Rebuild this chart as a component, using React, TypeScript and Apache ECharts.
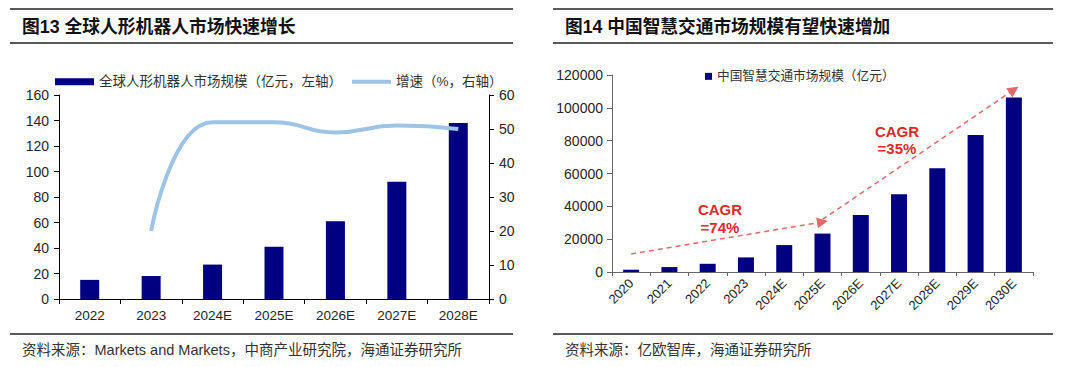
import React, { useEffect, useRef } from 'react';
import * as echarts from 'echarts';

// ---------- Data ----------
const leftCategories = ['2022', '2023', '2024E', '2025E', '2026E', '2027E', '2028E'];
const leftMarketSize = [15, 18, 27, 41, 61, 92, 138];
const leftGrowth = [null, 20, 52, 52, 49, 51, 50];
const leftAxisLeft = { min: 0, max: 160, interval: 20 };
const leftAxisRight = { min: 0, max: 60, interval: 10 };

const rightCategories = ['2020', '2021', '2022', '2023', '2024E', '2025E', '2026E', '2027E', '2028E', '2029E', '2030E'];
const rightMarketSize = [1400, 3000, 5000, 8900, 16400, 23400, 34700, 47300, 63200, 83400, 106300];
const rightAxis = { min: 0, max: 120000, interval: 20000 };
const cagrArrowStarts = [['2020', 11000], ['2025E', 32000]];
const cagrArrowEnds = [['2025E', 30500], ['2030E', 111000]];
const cagrLabels = ['74%', '35%'];

const leftTitle = '图13 全球人形机器人市场快速增长';
const rightTitle = '图14 中国智慧交通市场规模有望快速增加';
const leftSource = '资料来源：Markets and Markets，中商产业研究院，海通证券研究所';
const rightSource = '资料来源：亿欧智库，海通证券研究所';
const leftBarName = '全球人形机器人市场规模（亿元，左轴）';
const leftLineName = '增速（%，右轴）';
const rightBarName = '中国智慧交通市场规模（亿元）';

const FONT = "'Liberation Sans', Arial, 'Noto Sans CJK SC', sans-serif";
const NAVY = '#000080';
const RED = '#E0282C';
const LIGHT_BLUE = '#9DC3E6';

export default function App() {
  const ref = useRef<HTMLDivElement>(null);

  useEffect(() => {
    if (!ref.current) return;
    const chart = echarts.init(ref.current, undefined, { renderer: 'svg' });

    const ruleColor = '#222';
    const lines = [
      [10, 9, 513, 9], [10, 43, 513, 43], [10, 334, 513, 334],
      [553, 9, 1053, 9], [553, 43, 1053, 43], [553, 334, 1053, 334],
    ].map(([x1, y1, x2, y2]) => ({
      type: 'line',
      shape: { x1, y1, x2, y2 },
      style: { stroke: ruleColor, lineWidth: 1.6 },
      silent: true,
    }));

    const texts = [
      { text: leftTitle, x: 22, y: 27, font: `bold 17.8px ${FONT}`, fill: '#111' },
      { text: rightTitle, x: 565, y: 27, font: `bold 17.7px ${FONT}`, fill: '#111' },
      { text: leftSource, x: 22, y: 350, font: `14.5px ${FONT}`, fill: '#333' },
      { text: rightSource, x: 565, y: 350, font: `14.5px ${FONT}`, fill: '#333' },
      { text: 'CAGR', x: 720, y: 209, font: `bold 15px ${FONT}`, fill: RED, align: 'center' },
      { text: '=' + cagrLabels[0], x: 720, y: 227, font: `bold 15px ${FONT}`, fill: RED, align: 'center' },
      { text: 'CAGR', x: 897, y: 131, font: `bold 15px ${FONT}`, fill: RED, align: 'center' },
      { text: '=' + cagrLabels[1], x: 897, y: 148, font: `bold 15px ${FONT}`, fill: RED, align: 'center' },
    ].map((t) => ({
      type: 'text',
      x: t.x,
      y: t.y,
      silent: true,
      z: 100,
      style: {
        text: t.text,
        font: t.font,
        fill: t.fill,
        align: (t as any).align || 'left',
        verticalAlign: 'middle',
      },
    }));

    const axisLabelStyle = { color: '#262626', fontSize: 14, fontFamily: FONT };

    chart.setOption({
      animation: false,
      backgroundColor: '#fff',
      textStyle: { fontFamily: FONT },
      graphic: [...lines, ...texts],
      legend: [
        {
          left: 50,
          top: 70,
          itemGap: 10,
          itemWidth: 39,
          itemHeight: 7,
          textStyle: { fontSize: 13.5, color: '#333', fontFamily: FONT },
          data: [
            { name: leftBarName, icon: 'rect' },
            { name: leftLineName, icon: 'path://M0,0 L40,0 L40,4 L0,4 Z', itemStyle: { color: LIGHT_BLUE } },
          ],
        },
        {
          left: 700,
          top: 65,
          itemWidth: 7,
          itemHeight: 7,
          textStyle: { fontSize: 12.7, color: '#333', fontFamily: FONT },
          data: [{ name: rightBarName, icon: 'rect' }],
        },
      ],
      grid: [
        { left: 59, right: 1080 - 489, top: 95, bottom: 367 - 299 },
        { left: 612, right: 1080 - 1033, top: 75, bottom: 367 - 272 },
      ],
      xAxis: [
        {
          type: 'category',
          gridIndex: 0,
          data: leftCategories,
          axisLine: { lineStyle: { color: '#000', width: 1 } },
          axisTick: { show: true, length: 5, lineStyle: { color: '#000' } },
          axisLabel: { ...axisLabelStyle, fontSize: 13.5, margin: 10 },
        },
        {
          type: 'category',
          gridIndex: 1,
          data: rightCategories,
          axisLine: { lineStyle: { color: '#666', width: 1 } },
          axisTick: { show: true, length: 4, lineStyle: { color: '#666' } },
          axisLabel: { ...axisLabelStyle, fontSize: 13, rotate: 45, margin: 9 },
        },
      ],
      yAxis: [
        {
          type: 'value',
          gridIndex: 0,
          ...leftAxisLeft,
          splitLine: { show: false },
          axisLine: { show: true, lineStyle: { color: '#000', width: 1 } },
          axisTick: { show: true, length: 5, lineStyle: { color: '#000' } },
          axisLabel: { ...axisLabelStyle, margin: 10 },
        },
        {
          type: 'value',
          gridIndex: 0,
          position: 'right',
          ...leftAxisRight,
          splitLine: { show: false },
          axisLine: { show: true, lineStyle: { color: '#000', width: 1 } },
          axisTick: { show: true, length: 5, lineStyle: { color: '#000' } },
          axisLabel: { ...axisLabelStyle, margin: 10 },
        },
        {
          type: 'value',
          gridIndex: 1,
          ...rightAxis,
          splitLine: { show: false },
          axisLine: { show: true, lineStyle: { color: '#666', width: 1 } },
          axisTick: { show: true, length: 5, lineStyle: { color: '#666' } },
          axisLabel: { ...axisLabelStyle, margin: 9, formatter: (v: number) => String(v) },
        },
      ],
      series: [
        {
          name: leftBarName,
          type: 'bar',
          xAxisIndex: 0,
          yAxisIndex: 0,
          data: leftMarketSize,
          barWidth: 19,
          itemStyle: { color: NAVY },
        },
        {
          name: leftLineName,
          type: 'line',
          xAxisIndex: 0,
          yAxisIndex: 1,
          data: leftGrowth,
          smooth: 0.5,
          symbol: 'none',
          showSymbol: false,
          connectNulls: false,
          lineStyle: { color: LIGHT_BLUE, width: 4 },
          itemStyle: { color: LIGHT_BLUE },
          z: 5,
        },
        {
          name: rightBarName,
          type: 'bar',
          xAxisIndex: 1,
          yAxisIndex: 2,
          data: rightMarketSize,
          barWidth: 16,
          itemStyle: { color: NAVY },
          markLine: {
            silent: true,
            symbol: ['none', 'triangle'],
            symbolSize: [11, 11],
            label: { show: false },
            lineStyle: { color: '#E06A6A', type: [5, 4], width: 1.5 },
            emphasis: { disabled: true },
            data: cagrArrowStarts.map((s, i) => [
              { coord: s },
              { coord: cagrArrowEnds[i], symbol: 'triangle', itemStyle: { color: RED } },
            ]),
          },
        },
      ],
    });

    return () => chart.dispose();
  }, []);

  return (
    <div
      ref={ref}
      style={{ position: 'fixed', left: 0, top: 0, width: 1080, height: 367, background: '#fff' }}
    />
  );
}
